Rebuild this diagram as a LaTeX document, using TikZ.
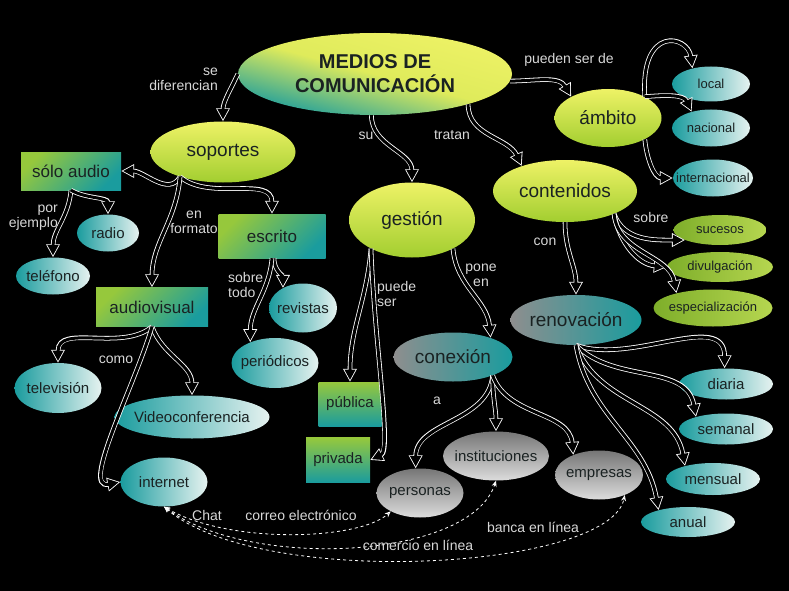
\documentclass[tikz,border=0pt]{standalone}
\usepackage{fontspec}
\setmainfont{Liberation Sans}
\usetikzlibrary{positioning, shapes.geometric, arrows.meta}

\definecolor{limon}{HTML}{EEF266}
\definecolor{lima}{HTML}{A2CE30}
\definecolor{verdeazul}{HTML}{1A9C9E}
\definecolor{hielo}{HTML}{E6F2F0}
\definecolor{hoja}{HTML}{96C83C}
\definecolor{oliva}{HTML}{7EAE2A}
\definecolor{olivaclaro}{HTML}{B6D650}
\definecolor{grisosc}{HTML}{767676}
\definecolor{grisclaro}{HTML}{DCDCDC}
\definecolor{grismedio}{HTML}{8E8E8E}
\definecolor{tinta}{HTML}{1A2222}
\definecolor{tiza}{HTML}{D8D8D8}

\begin{document}
\begin{tikzpicture}[
    x=1pt, y=-1pt,
    % --- ESTILOS ---
    ovalo/.style={ellipse, inner xsep=-40pt, inner ysep=0pt, text=tinta},
    amarillo/.style={ovalo, top color=limon, bottom color=lima, font=\fontsize{19}{21}\selectfont},
    turquesa/.style={ovalo, left color=verdeazul, right color=hielo, font=\fontsize{15}{17}\selectfont},
    gris/.style={ovalo, top color=grisosc, bottom color=grisclaro, font=\fontsize{15}{17}\selectfont},
    mixto/.style={ovalo, left color=grismedio, right color=verdeazul, font=\fontsize{19}{21}\selectfont},
    olivo/.style={ovalo, left color=oliva, right color=olivaclaro, font=\fontsize{13}{15}\selectfont},
    caja/.style={rectangle, inner sep=0pt, text=tinta, top color=hoja, bottom color=verdeazul,
        shading angle=45, font=\fontsize{17}{19}\selectfont},
    cajita/.style={rectangle, inner sep=0pt, text=tinta, top color=hoja, bottom color=verdeazul,
        font=\fontsize{15}{17}\selectfont},
    flecha/.style={draw=white, line width=4.6pt, -{Triangle[length=13pt, width=13pt]},
        postaction={draw=black, line width=3pt, shorten >=1.8pt, -{Triangle[length=10.4pt, width=10.4pt]}}},
    enlace/.style={draw=white, dashed, line width=0.8pt,
        {Stealth[open, length=6pt, width=5pt]}-{Stealth[open, length=6pt, width=5pt]}},
    rotulo/.style={text=tiza, font=\fontsize{14}{15}\selectfont, inner sep=0pt}
]

% --- 0. Fondo ---
\fill[black] (0,0) rectangle (789,591);

% --- 1. Nodo central ---
\node[ovalo, top color=limon, bottom color=verdeazul, middle color=limon!80!lima, shading angle=-15,
      minimum width=274, minimum height=82, align=center,
      font=\fontsize{20}{24}\selectfont\bfseries] (medios) at (375,74) {MEDIOS DE\\COMUNICACIÓN};

% --- 2. Segundo nivel ---
\node[amarillo, minimum width=145, minimum height=61] (soportes) at (223,152) {soportes};
\node[amarillo, minimum width=126, minimum height=75] (gestion) at (412,220) {gestión};
\node[amarillo, minimum width=144, minimum height=62] (contenidos) at (565,191) {contenidos};
\node[amarillo, minimum width=107, minimum height=58] (ambito) at (608,118) {ámbito};

% --- 3. Soportes ---
\node[caja, minimum width=100, minimum height=38] (solo) at (71,171) {sólo audio};
\node[caja, minimum width=107, minimum height=44] (escrito) at (272,236) {escrito};
\node[caja, minimum width=112, minimum height=39] (audiovisual) at (152,307) {audiovisual};
\node[turquesa, minimum width=62, minimum height=37] (radio) at (108,233) {radio};
\node[turquesa, minimum width=74, minimum height=37] (telefono) at (53,276) {teléfono};
\node[turquesa, minimum width=68, minimum height=49] (revistas) at (303,308) {revistas};
\node[turquesa, minimum width=87, minimum height=50] (periodicos) at (275,363) {periódicos};
\node[turquesa, minimum width=87, minimum height=50] (television) at (58,388) {televisión};
\node[turquesa, minimum width=155, minimum height=43] (video) at (192,417) {Videoconferencia};
\node[turquesa, minimum width=87, minimum height=49] (internet) at (164,482) {internet};

% --- 4. Gestion ---
\node[cajita, minimum width=63, minimum height=44] (publica) at (350,404) {pública};
\node[cajita, minimum width=64, minimum height=45] (privada) at (338,460) {privada};
\node[mixto, minimum width=119, minimum height=49] (conexion) at (453,357) {conexión};
\node[gris, minimum width=106, minimum height=49] (instituciones) at (496,456) {instituciones};
\node[gris, minimum width=87, minimum height=49] (personas) at (420,493) {personas};
\node[gris, minimum width=88, minimum height=49] (empresas) at (599,475) {empresas};

% --- 5. Contenidos y ambito ---
\node[olivo, minimum width=93, minimum height=30] (sucesos) at (720,230) {sucesos};
\node[olivo, minimum width=106, minimum height=30] (divulgacion) at (720,267) {divulgación};
\node[olivo, minimum width=119, minimum height=37] (especializacion) at (713,308) {especialización};
\node[mixto, minimum width=131, minimum height=50] (renovacion) at (576,320) {renovación};
\node[turquesa, minimum width=94, minimum height=31] (diaria) at (726,384) {diaria};
\node[turquesa, minimum width=94, minimum height=31] (semanal) at (726,429) {semanal};
\node[turquesa, minimum width=94, minimum height=32] (mensual) at (713,479) {mensual};
\node[turquesa, minimum width=94, minimum height=30] (anual) at (688,522) {anual};
\node[turquesa, font=\fontsize{13}{15}\selectfont, minimum width=78, minimum height=35] (local) at (711,84) {local};
\node[turquesa, font=\fontsize{13}{15}\selectfont, minimum width=78, minimum height=37] (nacional) at (711,128) {nacional};
\node[turquesa, font=\fontsize{13}{15}\selectfont, minimum width=80, minimum height=37] (internacional) at (713,178) {internacional};

% --- 6. Flechas ---
\draw[flecha] (medios.west) to[out=245, in=90] (soportes.north);
\draw[flecha] (medios.265) to[out=270, in=90] (gestion.north);
\draw[flecha] (medios.-18) to[out=270, in=115] (contenidos.150);
\draw[flecha] (medios.-3) to[out=0, in=120] (ambito.150);

\draw[flecha] (ambito.30) .. controls (640,25) and (688,35) .. (local.140);
\draw[flecha] (ambito.30) to[out=5, in=115] (nacional.140);
\draw[flecha] (ambito.-30) to[out=275, in=180] (internacional.west);

\draw[flecha] (soportes.210) to[out=240, in=0] (solo.east);
\draw[flecha] (soportes.210) to[out=-40, in=90] (escrito.north);
\draw[flecha] (soportes.210) to[out=265, in=90] (audiovisual.north);

\draw[flecha] (solo.south) to[out=265, in=90] (telefono.north);
\draw[flecha] (solo.south) to[out=-30, in=90] (radio.north);

\draw[flecha] (escrito.-85) to[out=270, in=90] (revistas.135);
\draw[flecha] (escrito.south) to[out=265, in=90] (periodicos.140);

\draw[flecha] (audiovisual.south) to[out=220, in=90] (television.north);
\draw[flecha] (audiovisual.south) to[out=290, in=90] (video.north);
\draw[flecha] (audiovisual.south) .. controls (135,385) and (80,490) .. (internet.west);

\draw[flecha] (gestion.215) to[out=265, in=90] (publica.north);
\draw[flecha] (gestion.215) .. controls (374,340) and (392,450) .. (privada.east);
\draw[flecha] (gestion.-35) to[out=275, in=95] (conexion.27);

\draw[flecha] (conexion.-25) to[out=265, in=90] (personas.100);
\draw[flecha] (conexion.-25) to[out=270, in=90] (instituciones.north);
\draw[flecha] (conexion.-25) to[out=290, in=95] (empresas.142);

\draw[flecha] (contenidos.south) to[out=270, in=90] (renovacion.north);
\draw[flecha] (contenidos.-25) to[out=290, in=180] (sucesos.196);
\draw[flecha] (contenidos.-25) to[out=280, in=175] (divulgacion.west);
\draw[flecha] (contenidos.-25) to[out=275, in=100] (especializacion.158);

\draw[flecha] (renovacion.south) to[out=-20, in=90] (diaria.95);
\draw[flecha] (renovacion.south) to[out=-45, in=100] (semanal.158);
\draw[flecha] (renovacion.south) to[out=-70, in=100] (mensual.155);
\draw[flecha] (renovacion.south) to[out=-80, in=100] (anual.158);

% --- 7. Enlaces cruzados ---
\draw[enlace] (internet.south) .. controls (230,545) and (360,540) .. (personas.212);
\draw[enlace] (internet.south) .. controls (250,570) and (470,560) .. (instituciones.south);
\draw[enlace] (internet.south) .. controls (260,590) and (610,570) .. (empresas.-38);

% --- 8. Rotulos ---
\node[rotulo, align=right, anchor=east] (r-dif) at (218,79) {se\\diferencian};
\node[rotulo] (r-pueden) at (569,60) {pueden ser de};
\node[rotulo] (r-su) at (366,136) {su};
\node[rotulo] (r-tratan) at (452,135) {tratan};
\node[rotulo, align=right, anchor=east] (r-por) at (58,218) {por\\ejemplo};
\node[rotulo, align=center] (r-formato) at (194,222) {en\\formato};
\node[rotulo, align=left, anchor=west] (r-sobretodo) at (228,285) {sobre\\todo};
\node[rotulo] (r-como) at (116,360) {como};
\node[rotulo, align=left, anchor=west] (r-puede) at (377,294) {puede\\ser};
\node[rotulo, align=center] (r-pone) at (481,275) {pone\\en};
\node[rotulo] (r-con) at (545,242) {con};
\node[rotulo] (r-sobre) at (651,217) {sobre};
\node[rotulo] (r-a) at (437,401) {a};
\node[rotulo] (r-chat) at (207,515) {Chat};
\node[rotulo] (r-correo) at (301,515) {correo electrónico};
\node[rotulo] (r-comercio) at (418,545) {comercio en línea};
\node[rotulo] (r-banca) at (533,527) {banca en línea};

\end{tikzpicture}
\end{document}
